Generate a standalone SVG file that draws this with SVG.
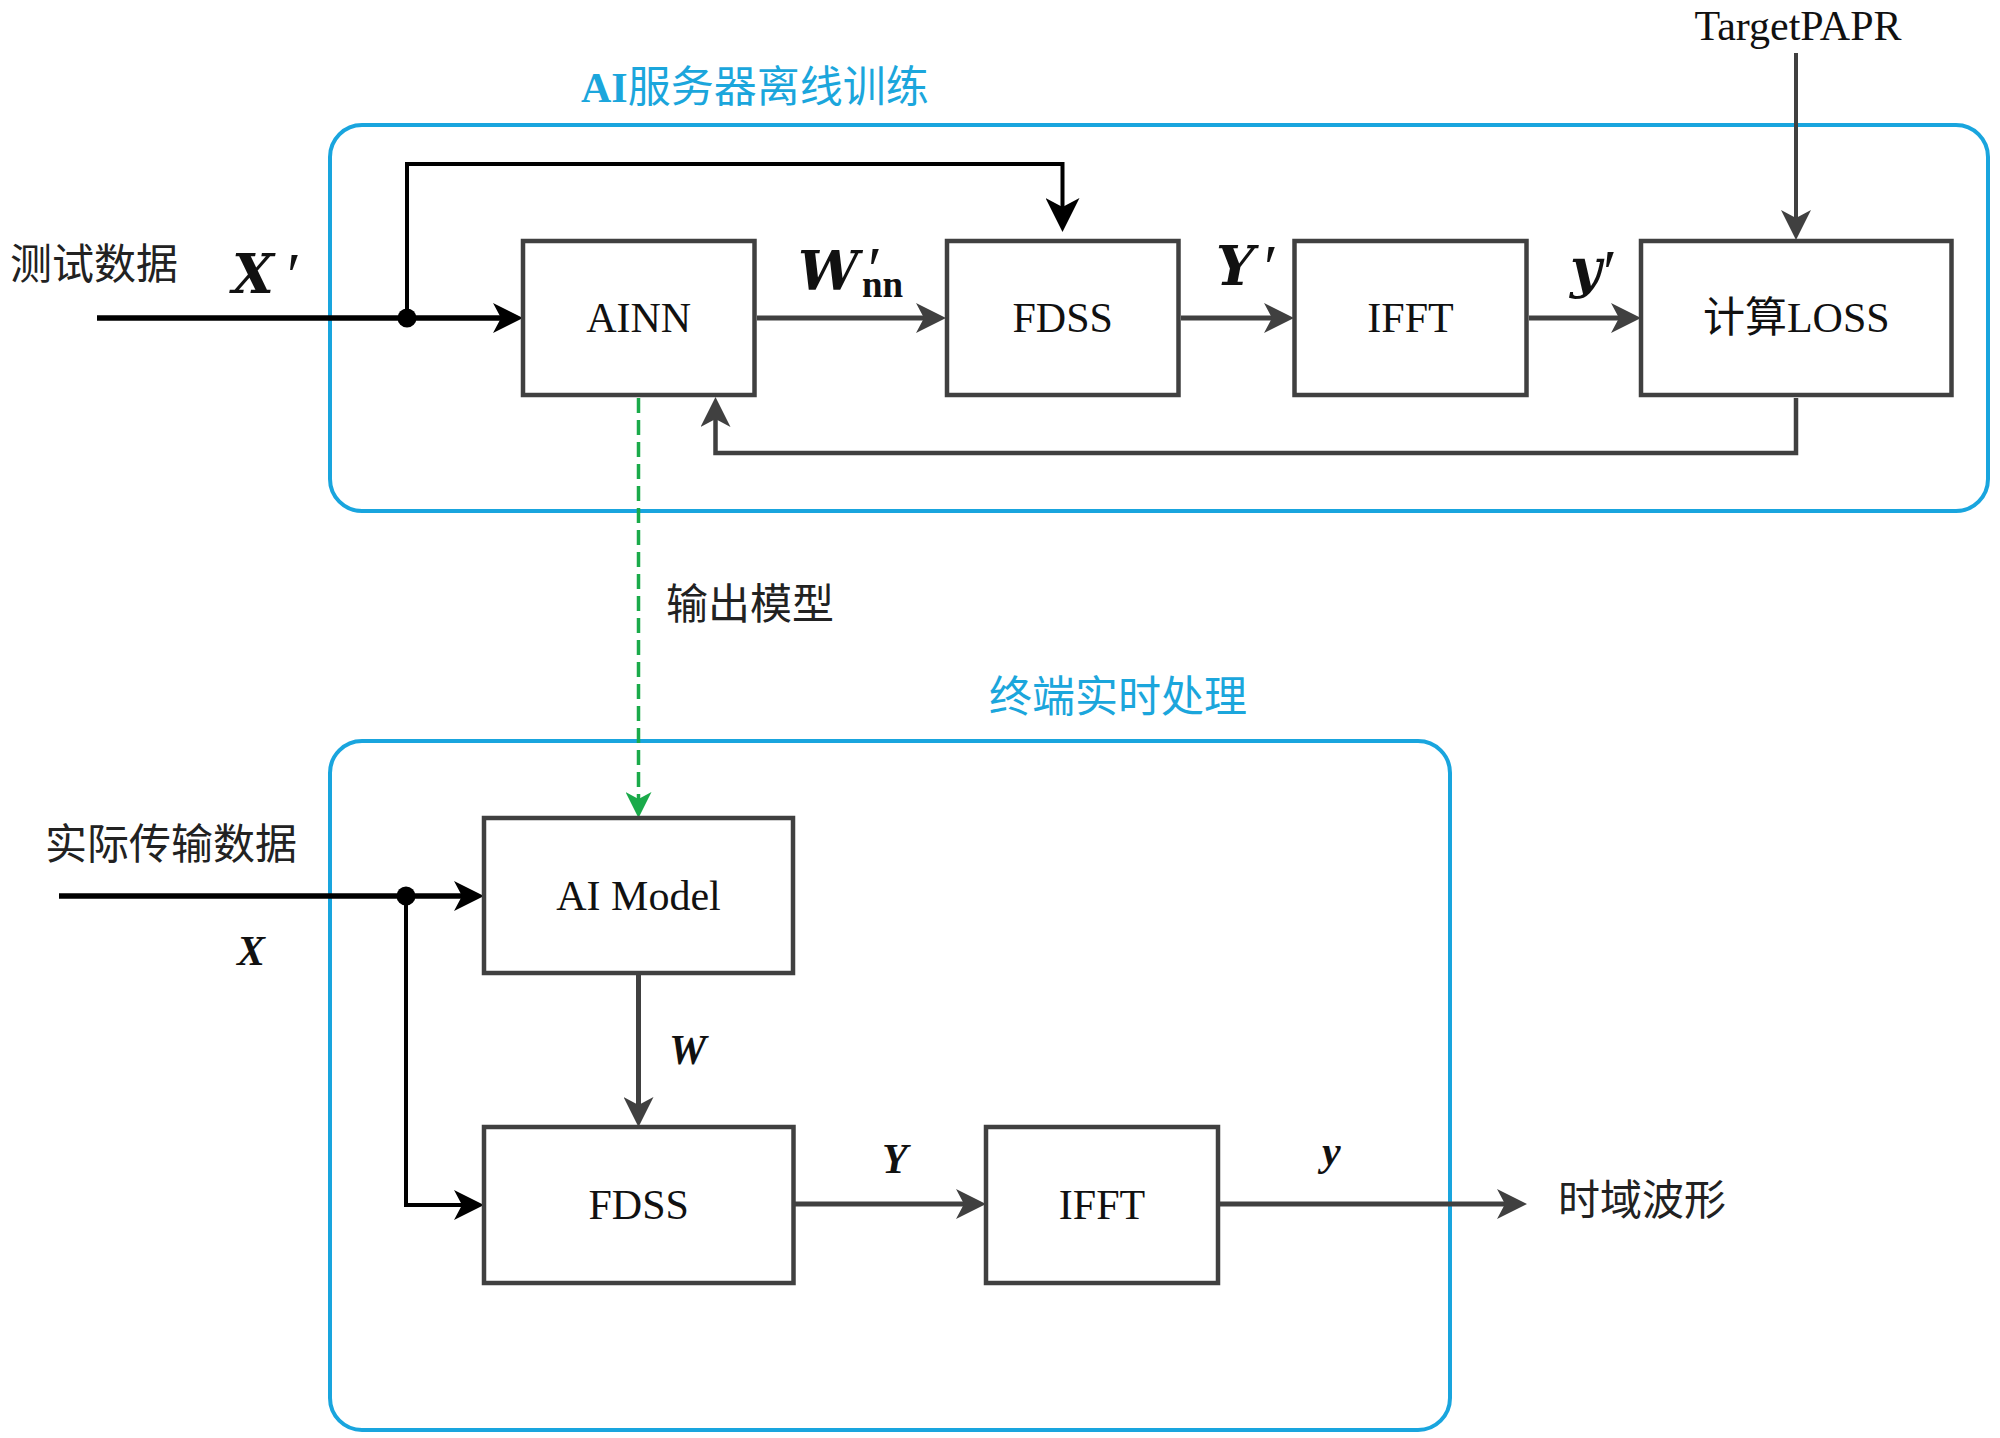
<svg xmlns="http://www.w3.org/2000/svg" width="2000" height="1438" viewBox="0 0 2000 1438">
<style>
.frame{fill:none;stroke:#19a5de;stroke-width:4}
.box{fill:#fff;stroke:#404040;stroke-width:4.5}
.bt{font-family:"Liberation Serif","Noto Sans CJK SC",serif;font-size:42px;fill:#111;text-anchor:middle}
.cn{font-family:"Noto Sans CJK SC",sans-serif;font-size:42px;fill:#222}
.ttl{font-family:"Noto Sans CJK SC",sans-serif;font-size:43px;fill:#1ba6dc}
.lb{font-family:"DejaVu Serif","Liberation Serif",serif;font-weight:bold;font-style:italic;font-size:54px;fill:#111}
.pr{font-family:"Liberation Serif",serif;font-weight:normal;font-style:italic;font-size:64px}
.ls{font-family:"Liberation Serif",serif;font-weight:bold;font-style:italic;font-size:42px;fill:#111}
.k{fill:none;stroke:#000}
.g{fill:none;stroke:#404040}
</style>
<defs>
<marker id="ak" viewBox="0 0 30 30" refX="8" refY="15" markerWidth="30" markerHeight="30" markerUnits="userSpaceOnUse" orient="auto"><path d="M0,0 L30,15 L0,30 L8,15 Z" fill="#000"/></marker>
<marker id="ag" viewBox="0 0 30 30" refX="8" refY="15" markerWidth="30" markerHeight="30" markerUnits="userSpaceOnUse" orient="auto"><path d="M0,0 L30,15 L0,30 L8,15 Z" fill="#404040"/></marker>
<marker id="akb" viewBox="0 0 34 34" refX="9" refY="17" markerWidth="34" markerHeight="34" markerUnits="userSpaceOnUse" orient="auto"><path d="M0,0 L34,17 L0,34 L9,17 Z" fill="#000"/></marker>
<marker id="agr" viewBox="0 0 26 26" refX="7" refY="13" markerWidth="26" markerHeight="26" markerUnits="userSpaceOnUse" orient="auto"><path d="M0,0 L26,13 L0,26 L7,13 Z" fill="#1aaa4a"/></marker>
</defs>

<g id="frames">
<rect id="frame-train" class="frame" x="330" y="125" width="1658" height="386" rx="32" ry="32"/>
<rect id="frame-term" class="frame" x="330" y="741" width="1120" height="689" rx="32" ry="32"/>
<text id="title-train" x="581" y="102" class="ttl"><tspan font-family="Liberation Serif" font-weight="bold" font-size="42">AI</tspan>服务器离线训练</text>
<text id="title-term" x="989" y="712" class="ttl">终端实时处理</text>
</g>

<g id="connectors">
<path class="k" stroke-width="5.5" d="M97,318 H501" marker-end="url(#ak)"/>
<path class="k" stroke-width="4" d="M407,318 V164 H1062.5 V207" marker-end="url(#akb)"/>
<circle cx="407" cy="318" r="9.5" fill="#000"/>
<path class="g" stroke-width="5" d="M757,318 H924" marker-end="url(#ag)"/>
<path class="g" stroke-width="5" d="M1181,318 H1272" marker-end="url(#ag)"/>
<path class="g" stroke-width="5" d="M1529,318 H1619" marker-end="url(#ag)"/>
<path class="g" stroke-width="4" d="M1796,53 V218" marker-end="url(#ag)"/>
<path class="g" stroke-width="4.5" d="M1796,398 V453 H715.5 V419" marker-end="url(#ag)"/>
<path fill="none" stroke="#1aaa4a" stroke-width="3.5" stroke-dasharray="15 7" d="M638.5,398 V799" marker-end="url(#agr)"/>
<path class="k" stroke-width="5.5" d="M59,896 H462" marker-end="url(#ak)"/>
<path class="k" stroke-width="4" d="M406,896 V1205 H462" marker-end="url(#ak)"/>
<circle cx="406" cy="896" r="9.5" fill="#000"/>
<path class="g" stroke-width="5" d="M638.5,975 V1105" marker-end="url(#ag)"/>
<path class="g" stroke-width="5" d="M795,1204 H964" marker-end="url(#ag)"/>
<path class="g" stroke-width="5" d="M1220,1204 H1505" marker-end="url(#ag)"/>
</g>

<g id="node-ainn"><rect class="box" x="523" y="241" width="231.5" height="154"/><text class="bt" x="638.7" y="332">AINN</text></g>
<g id="node-fdss-top"><rect class="box" x="947" y="241" width="231.5" height="154"/><text class="bt" x="1062.7" y="332">FDSS</text></g>
<g id="node-ifft-top"><rect class="box" x="1294.5" y="241" width="232" height="154"/><text class="bt" x="1410.5" y="332">IFFT</text></g>
<g id="node-loss"><rect class="box" x="1641" y="241" width="310.5" height="154"/><text class="bt" x="1796.3" y="332">计算LOSS</text></g>
<g id="node-aimodel"><rect class="box" x="484" y="818" width="309" height="155"/><text class="bt" x="638.5" y="910">AI Model</text></g>
<g id="node-fdss-bot"><rect class="box" x="484" y="1127" width="309.5" height="156"/><text class="bt" x="638.7" y="1219">FDSS</text></g>
<g id="node-ifft-bot"><rect class="box" x="986" y="1127" width="232" height="156"/><text class="bt" x="1102" y="1219">IFFT</text></g>

<g id="labels">
<text class="cn" x="10" y="279">测试数据</text>
<text class="cn" x="45" y="859">实际传输数据</text>
<text class="cn" x="666" y="619">输出模型</text>
<text class="cn" x="1558" y="1215">时域波形</text>
<text class="bt" x="1798" y="40" font-size="43">TargetPAPR</text>
<text class="lb" x="232" y="293">X<tspan class="pr" x="283" y="297">′</tspan></text>
<text class="lb" x="798" y="290">W<tspan class="pr" x="864" y="291">′</tspan><tspan x="862" y="297" font-family="Liberation Serif" font-style="normal" font-weight="bold" font-size="37">nn</tspan></text>
<text class="lb" x="1216" y="285">Y<tspan class="pr" x="1260" y="289">′</tspan></text>
<text class="lb" x="1570" y="287">y<tspan class="pr" x="1599" y="294">′</tspan></text>
<text class="ls" x="237" y="965">X</text>
<text class="ls" x="669" y="1064">W</text>
<text class="ls" x="882" y="1173">Y</text>
<text class="ls" x="1322" y="1165">y</text>
</g>
</svg>
